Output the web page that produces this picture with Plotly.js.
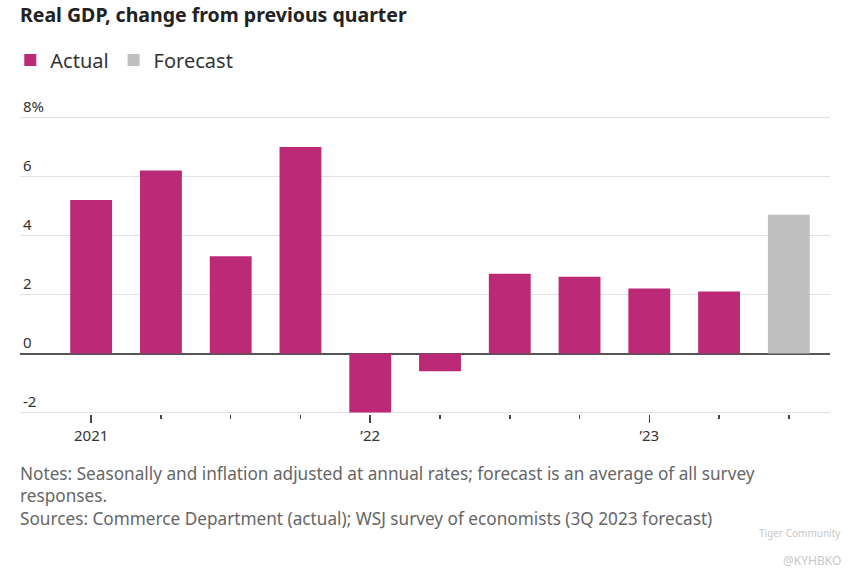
<!DOCTYPE html>
<html>
<head>
<meta charset="utf-8">
<script src="https://cdn.plot.ly/plotly-3.0.1.min.js"></script>
<style>
html,body{margin:0;padding:0;background:#fff;}
#chart{width:861px;height:580px;}
</style>
</head>
<body>
<div id="chart"></div>
<script>
// ---- data ----
const quarters = ["2021Q1","2021Q2","2021Q3","2021Q4","2022Q1","2022Q2","2022Q3","2022Q4","2023Q1","2023Q2","2023Q3"];
const actualValues = [5.2, 6.2, 3.3, 7.0, -2.0, -0.6, 2.7, 2.6, 2.2, 2.1];
const forecastValues = [4.7];
const yTickVals = [-2, 0, 2, 4, 6, 8];
const yTickText = ["-2", "0", "2", "4", "6", "8%"];
const yearTickLabels = ["2021", "\u201922", "\u201923"];
const yearTickQuarters = ["2021Q1", "2022Q1", "2023Q1"];

const idx = q => quarters.indexOf(q);
const actualX = actualValues.map((v, i) => i);
const forecastX = forecastValues.map((v, i) => actualValues.length + i);

const font = "Noto Sans, sans-serif";

const traces = [
  {
    type: "bar", name: "Actual", x: actualX, y: actualValues,
    marker: {color: "#BC2A77", line: {width: 0}},
    width: 0.6, hoverinfo: "y"
  },
  {
    type: "bar", name: "Forecast", x: forecastX, y: forecastValues,
    marker: {color: "#BFBFBF", line: {width: 0}},
    width: 0.6, hoverinfo: "y"
  }
];

const layout = {
  width: 861, height: 580,
  margin: {l: 20, r: 31, t: 88, b: 166, autoexpand: false},
  paper_bgcolor: "#fff", plot_bgcolor: "#fff",
  barmode: "overlay",
  showlegend: true,
  legend: {
    orientation: "h", x: -0.012, xanchor: "left", y: 1.086, yanchor: "middle",
    font: {family: font, size: 20, color: "#333"},
    itemwidth: 30, traceorder: "normal"
  },
  title: {
    text: "<b>Real GDP, change from previous quarter</b>",
    x: 0, xref: "paper", xanchor: "left",
    y: 0.986, yref: "container", yanchor: "top",
    font: {family: font, size: 19.5, color: "#222"}
  },
  xaxis: {
    type: "linear", automargin: false,
    range: [-1.02, 10.59],
    tickmode: "array",
    tickvals: yearTickQuarters.map(idx),
    ticktext: yearTickLabels,
    ticks: "outside", ticklen: 8, tickwidth: 1.5, tickcolor: "#444",
    minor: {dtick: 1, tick0: 0, ticks: "outside", ticklen: 4, tickwidth: 1.5, tickcolor: "#444", showgrid: false},
    showgrid: false, zeroline: false, showline: false,
    tickfont: {family: font, size: 15, color: "#333"},
    fixedrange: true
  },
  yaxis: {
    automargin: false,
    range: [-2.05, 9],
    tickmode: "array", tickvals: yTickVals, ticktext: yTickText,
    ticklabelposition: "inside top",
    ticks: "", showgrid: true, gridcolor: "#E2E2E2", gridwidth: 1,
    zeroline: true, zerolinecolor: "#555", zerolinewidth: 2,
    showline: false,
    tickfont: {family: font, size: 15, color: "#333"},
    fixedrange: true
  },
  annotations: [
    {
      text: "Notes: Seasonally and inflation adjusted at annual rates; forecast is an average of all survey<br>responses.<br>Sources: Commerce Department (actual); WSJ survey of economists (3Q 2023 forecast)",
      xref: "paper", yref: "paper", x: -0.002, y: -0.1396, xanchor: "left", yanchor: "top",
      align: "left", showarrow: false,
      font: {family: font, size: 17.2, color: "#666"}
    },
    {
      text: "Tiger Community", xref: "paper", yref: "paper", x: 1.016, y: -0.365,
      xanchor: "right", yanchor: "middle", showarrow: false,
      font: {family: font, size: 10, color: "#c8c8c8"}
    },
    {
      text: "@KYHBKO", xref: "paper", yref: "paper", x: 1.016, y: -0.45,
      xanchor: "right", yanchor: "middle", showarrow: false,
      font: {family: font, size: 12, color: "#c8c8c8"}
    }
  ]
};

Plotly.newPlot("chart", traces, layout, {displayModeBar: false, staticPlot: true});
</script>
</body>
</html>
